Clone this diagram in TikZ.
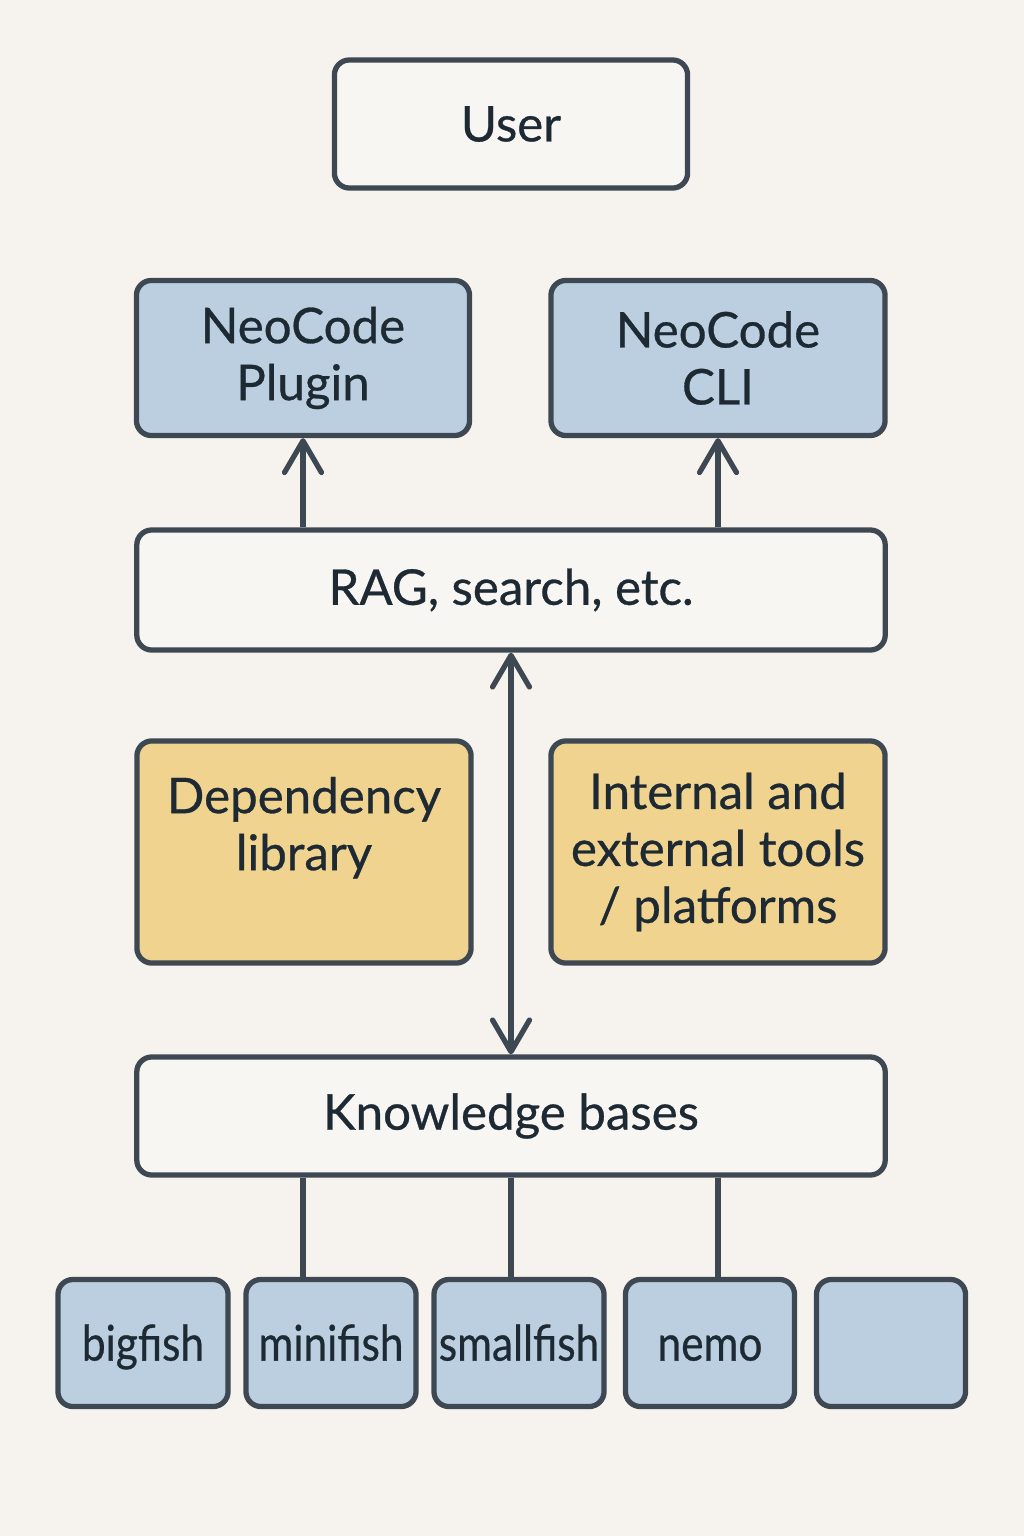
\documentclass[tikz,border=0pt]{standalone}
\usepackage{fontspec}
\setmainfont{Lato}[FakeBold=0.6]
\usepackage{graphicx}
\usetikzlibrary{arrows.meta}
\definecolor{bgpaper}{HTML}{F6F3EF}
\definecolor{boxpaper}{HTML}{F8F6F3}
\definecolor{boxline}{HTML}{3D4852}
\definecolor{boxblue}{HTML}{BBCFE0}
\definecolor{boxyellow}{HTML}{F0D38E}
\definecolor{inktext}{HTML}{1E2A33}
\tikzstyle{box} = [draw=boxline, line width=1.5pt, rounded corners=0.15cm, align=center, text=inktext, inner sep=0pt, font=\fontsize{14}{16.2}\selectfont]
\tikzstyle{fish} = [box, fill=boxblue, minimum height=1.27cm, text height=10pt, text depth=0pt]
\tikzstyle{line} = [draw=boxline, line width=1.5pt, ->]
\tikzstyle{link} = [draw=boxline, line width=1.5pt]
\newcommand{\squeeze}[1]{\scalebox{0.86}[1]{#1}}

\begin{document}
\begin{tikzpicture}
  [x=0.01cm,y=-0.01cm,>={Straight Barb[length=9pt,width=10.5pt,round]}]
  \fill[bgpaper] (0,0) rectangle (1024,1536);

  \node (user) [box, fill=boxpaper, minimum width=3.53cm, minimum height=1.28cm] at (511,124) {User};

  \node (plugin) [box, fill=boxblue, minimum width=3.33cm, minimum height=1.55cm] at (303,358) {NeoCode\\Plugin};
  \node (cli) [box, fill=boxblue, minimum width=3.34cm, minimum height=1.55cm] at (718,358) {NeoCode\\CLI};

  \node (rag) [box, fill=boxpaper, minimum width=7.48cm, minimum height=1.2cm] at (511,590) {RAG, search, etc.};

  \node (deplib) [box, fill=boxyellow, minimum width=3.34cm, minimum height=2.22cm] at (304,852) {Dependency\\library\\~};
  \node (tools) [box, fill=boxyellow, minimum width=3.34cm, minimum height=2.22cm] at (718,852) {Internal and\\external tools\\/ platforms};

  \node (kb) [box, fill=boxpaper, minimum width=7.48cm, minimum height=1.18cm] at (511,1116) {Knowledge bases};

  % knowledge base instances
  \node (bigfish) [fish, minimum width=1.7cm] at (143,1343) {\squeeze{bigfish}};
  \node (minifish) [fish, minimum width=1.7cm] at (331,1343) {\squeeze{minifish}};
  \node (smallfish) [fish, minimum width=1.7cm] at (519,1343) {\squeeze{smallfish}};
  \node (nemo) [fish, minimum width=1.69cm] at (710,1343) {\squeeze{nemo}};
  \node (spare) [fish, minimum width=1.49cm] at (891,1343) {};

  \path [line] (rag.north -| plugin.south) -- (plugin.south);
  \path [line] (rag.north -| cli.south) -- (cli.south);
  \path [line, <->] (rag.south) -- (kb.north);

  \path [link] (kb.south -| plugin.south) -- (plugin.south |- minifish.north);
  \path [link] (kb.south) -- (kb.south |- smallfish.north);
  \path [link] (kb.south -| cli.south) -- (cli.south |- nemo.north);

\end{tikzpicture}
\end{document}
